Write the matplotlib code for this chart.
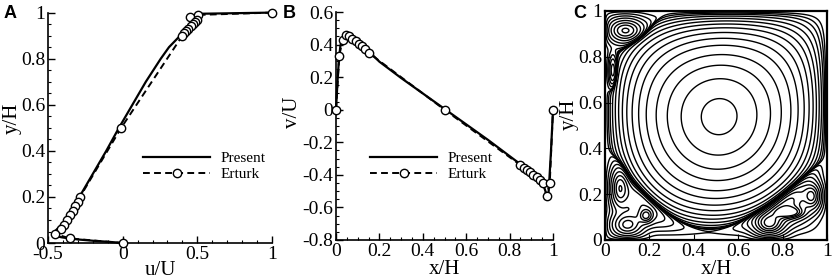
import numpy as np
import matplotlib.pyplot as plt
from matplotlib.ticker import MultipleLocator

plt.rcParams['font.family'] = ['Liberation Serif', 'DejaVu Serif']
plt.rcParams['axes.unicode_minus'] = False

# ---- Panel A: u/U along the vertical centreline ----
a_present_y = [0, 0.003, 0.006, 0.01, 0.015, 0.02, 0.025, 0.03, 0.035, 0.04, 0.05, 0.06,
               0.08, 0.1, 0.15, 0.2, 0.3, 0.4, 0.5, 0.6, 0.7, 0.8, 0.85, 0.9, 0.93, 0.95,
               0.97, 0.98, 0.99, 0.995, 1.0]
a_present_u = [0, -0.05, -0.11, -0.2, -0.29, -0.36, -0.41, -0.445, -0.462, -0.465, -0.455, -0.44,
               -0.41, -0.385, -0.335, -0.29, -0.2, -0.11, -0.025, 0.065, 0.155, 0.255, 0.31, 0.385,
               0.425, 0.455, 0.49, 0.45, 0.50, 0.52, 1.0]
a_erturk_y = [1.0, 0.99, 0.98, 0.97, 0.96, 0.95, 0.94, 0.93, 0.92, 0.91, 0.90, 0.5,
              0.2, 0.18, 0.16, 0.14, 0.12, 0.10, 0.08, 0.06, 0.04, 0.02, 0.0]
a_erturk_u = [1.0, 0.507, 0.45, 0.495, 0.485, 0.47, 0.455, 0.44, 0.425, 0.41, 0.40, -0.01,
              -0.286, -0.30, -0.318, -0.335, -0.355, -0.375, -0.395, -0.415, -0.455, -0.353, 0.0]

# ---- Panel B: v/U along the horizontal centreline ----
b_present_x = [0, 0.004, 0.008, 0.012, 0.016, 0.02, 0.025, 0.03, 0.04, 0.05, 0.07, 0.1, 0.15,
               0.2, 0.3, 0.4, 0.5, 0.6, 0.7, 0.8, 0.85, 0.9, 0.94, 0.96, 0.97, 0.975, 0.98,
               0.99, 1.0]
b_present_v = [0, 0.1, 0.2, 0.28, 0.34, 0.39, 0.42, 0.435, 0.45, 0.455, 0.445, 0.415, 0.36,
               0.295, 0.195, 0.1, 0.005, -0.09, -0.185, -0.285, -0.335, -0.39, -0.44, -0.48,
               -0.52, -0.54, -0.5, -0.27, 0.0]
b_erturk_x = [0, 0.015, 0.03, 0.045, 0.06, 0.075, 0.09, 0.105, 0.12, 0.135, 0.15, 0.5,
              0.85, 0.865, 0.88, 0.895, 0.91, 0.925, 0.94, 0.955, 0.97, 0.985, 1.0]
b_erturk_v = [0, 0.33, 0.43, 0.46, 0.45, 0.435, 0.42, 0.405, 0.39, 0.37, 0.35, 0.0,
              -0.34, -0.355, -0.37, -0.385, -0.40, -0.415, -0.43, -0.45, -0.53, -0.45, 0.0]

# ---- Panel C: streamlines ----
# primary vortex centre and where its streamlines cross the line y = centre
c_center = (0.515, 0.52)
c_ring_x = [0.556, 0.645, 0.715, 0.77, 0.815, 0.855, 0.885, 0.91, 0.93, 0.946, 0.959,
            0.97, 0.979, 0.986, 0.991, 0.995]
# corner regions: which corner, extent along the horizontal wall, extent along the vertical wall
corner_name = ['BL', 'TL', 'BR']
corner_ax = [0.33, 0.28, 0.42]
corner_ay = [0.38, 0.19, 0.36]
# smaller eddies inside the corner regions
eddy_x = [0.09, 0.035, 0.065, 0.10, 0.185, 0.74, 0.835, 0.935]
eddy_y = [0.915, 0.74, 0.225, 0.065, 0.105, 0.065, 0.12, 0.19]
eddy_wx = [0.07, 0.016, 0.035, 0.06, 0.028, 0.06, 0.055, 0.035]
eddy_wy = [0.045, 0.055, 0.075, 0.045, 0.028, 0.045, 0.022, 0.05]
eddy_amp = [3.5e-3, 2e-3, 3e-3, 3e-3, 2.5e-3, 3.5e-3, 3e-3, 3e-3]
eddy_levels = [3e-5, 1.5e-4, 4e-4, 8e-4, 1.4e-3, 2.1e-3, 2.8e-3, 3.5e-3, 4.2e-3]

fig = plt.figure(figsize=(8.35, 2.8), dpi=100)
axA = fig.add_axes([0.0575, 0.132, 0.2683, 0.823])
axB = fig.add_axes([0.4024, 0.143, 0.2599, 0.814])
axC = fig.add_axes([0.7246, 0.143, 0.2659, 0.818])

tick_fs = 14
lab_fs = 15


def style_xy(ax):
    for s in ['top', 'right']:
        ax.spines[s].set_visible(False)
    for s in ['left', 'bottom']:
        ax.spines[s].set_linewidth(1.2)
    ax.tick_params(which='both', direction='in', labelsize=tick_fs, pad=2)
    ax.tick_params(which='major', length=5, width=1)
    ax.tick_params(which='minor', length=2.5, width=0.8)


def draw_profile(ax, xp, yp, xe, ye):
    ax.plot(xp, yp, color='black', lw=1.6, label='Present', clip_on=False, zorder=3)
    ax.plot(xe, ye, color='black', lw=1.4, ls=(0, (3.5, 2.2)), marker='o', ms=6,
            mfc='white', mec='black', mew=1, label='Erturk', clip_on=False, zorder=4)


# Panel A
draw_profile(axA, a_present_u, a_present_y, a_erturk_u, a_erturk_y)
axA.set_xlim(-0.5, 1)
axA.set_ylim(0, 1)
axA.xaxis.set_minor_locator(MultipleLocator(0.1))
axA.yaxis.set_minor_locator(MultipleLocator(0.05))
axA.set_xticks([-0.5, 0, 0.5, 1])
axA.set_xticklabels(['-0.5', '0', '0.5', '1'])
axA.set_yticks([0, 0.2, 0.4, 0.6, 0.8, 1])
axA.set_yticklabels(['0', '0.2', '0.4', '0.6', '0.8', '1'])
style_xy(axA)
axA.set_xlabel('u/U', fontsize=lab_fs)
axA.set_ylabel('y/H', fontsize=lab_fs)
axA.xaxis.set_label_coords(0.5, -0.12)
axA.yaxis.set_label_coords(-0.16, 0.54)
axA.legend(loc='center left', bbox_to_anchor=(0.424, 0.332), frameon=False, fontsize=11,
           handlelength=4.4, handletextpad=0.7, labelspacing=0.15, borderpad=0,
           borderaxespad=0)

# Panel B
draw_profile(axB, b_present_x, b_present_v, b_erturk_x, b_erturk_v)
axB.set_xlim(0, 1)
axB.set_ylim(-0.8, 0.6)
axB.xaxis.set_minor_locator(MultipleLocator(0.05))
axB.yaxis.set_minor_locator(MultipleLocator(0.05))
axB.set_xticks([0, 0.2, 0.4, 0.6, 0.8, 1])
axB.set_xticklabels(['0', '0.2', '0.4', '0.6', '0.8', '1'])
axB.set_yticks([-0.8, -0.6, -0.4, -0.2, 0, 0.2, 0.4, 0.6])
axB.set_yticklabels(['-0.8', '-0.6', '-0.4', '-0.2', '0', '0.2', '0.4', '0.6'])
style_xy(axB)
axB.set_xlabel('x/H', fontsize=lab_fs)
axB.set_ylabel('v/U', fontsize=lab_fs)
axB.xaxis.set_label_coords(0.5, -0.13)
axB.yaxis.set_label_coords(-0.2, 0.56)
axB.legend(loc='center left', bbox_to_anchor=(0.157, 0.323), frameon=False, fontsize=11,
           handlelength=4.4, handletextpad=0.7, labelspacing=0.15, borderpad=0,
           borderaxespad=0)

# Panel C
n = 500
xg = np.linspace(0, 1, n)
X, Y = np.meshgrid(xg, xg)
ex = np.log(0.5) / np.log(c_center[0])
ey = np.log(0.5) / np.log(c_center[1])


def primary(x, y):
    return -(np.sin(np.pi * x ** ex) * np.sin(np.pi * y ** ey)) ** 3


# distance-like coordinates from each corner
corner_uv = {'BL': (X, Y), 'TL': (X, 1 - Y), 'BR': (1 - X, Y)}
S = np.ones_like(X)
for name, cax, cay in zip(corner_name, corner_ax, corner_ay):
    u, v = corner_uv[name]
    S = S - np.exp(1.5 * (1 - u / cax - v / cay))

d = 0.02
wall = np.tanh(X / d) * np.tanh((1 - X) / d) * np.tanh(Y / d) * np.tanh((1 - Y) / d)
psi = primary(X, Y) * S
for cx, cy, wx, wy, amp in zip(eddy_x, eddy_y, eddy_wx, eddy_wy, eddy_amp):
    psi = psi + amp * wall * np.exp(-((X - cx) / wx) ** 2 - ((Y - cy) / wy) ** 2)

main_levels = sorted(primary(np.array(c_ring_x), c_center[1]))
axC.contour(X, Y, psi, levels=main_levels, colors='black', linewidths=1.0,
            linestyles='solid')
axC.contour(X, Y, psi, levels=eddy_levels, colors='black', linewidths=1.0,
            linestyles='solid')
axC.set_xlim(0, 1)
axC.set_ylim(0, 1)
axC.set_xticks([0, 0.2, 0.4, 0.6, 0.8, 1])
axC.set_xticklabels(['0', '0.2', '0.4', '0.6', '0.8', '1'])
axC.set_yticks([0, 0.2, 0.4, 0.6, 0.8, 1])
axC.set_yticklabels(['0', '0.2', '0.4', '0.6', '0.8', '1'])
axC.tick_params(direction='in', labelsize=tick_fs, pad=2, length=4)
for s in axC.spines.values():
    s.set_linewidth(1.6)
axC.set_xlabel('x/H', fontsize=lab_fs)
axC.set_ylabel('y/H', fontsize=lab_fs)
axC.xaxis.set_label_coords(0.5, -0.13)
axC.yaxis.set_label_coords(-0.16, 0.55)

for ax in (axA, axB, axC):
    ax.xaxis.label.set_va('center')
    ax.yaxis.label.set_va('center')

for txt, xp in (('A', 4), ('B', 283), ('C', 573)):
    fig.text(xp / 835, 1 - 13 / 280, txt, fontsize=13, fontweight='bold',
             family=['Liberation Sans', 'DejaVu Sans'], va='center', ha='left')

fig.savefig('out.png', dpi=100)
